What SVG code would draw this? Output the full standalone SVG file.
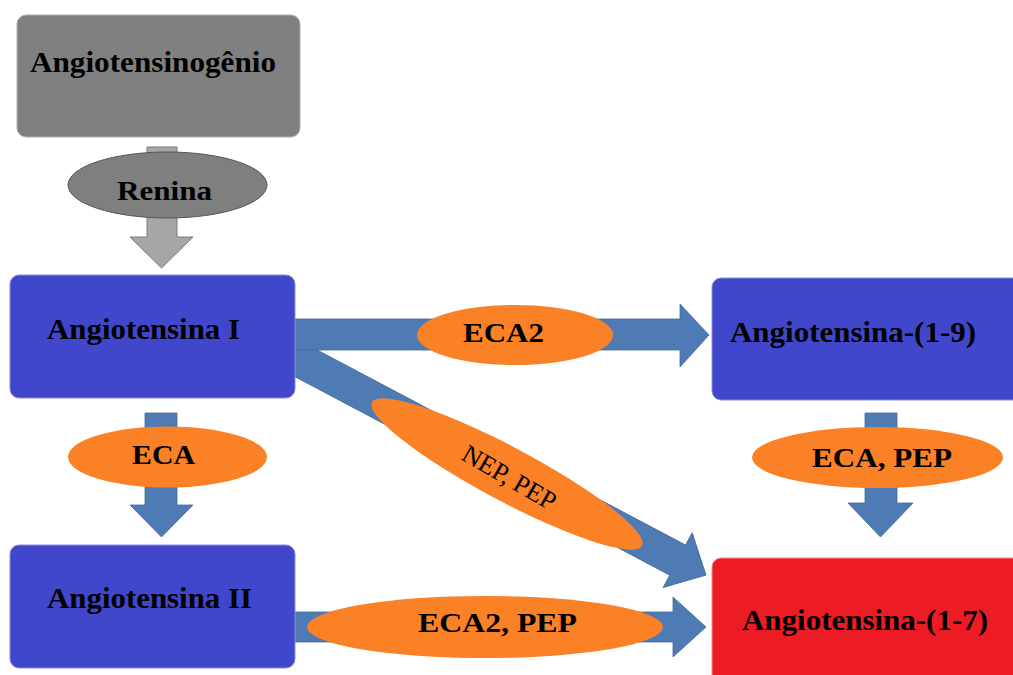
<svg xmlns="http://www.w3.org/2000/svg" width="1013" height="675" viewBox="0 0 1013 675">
  <style>
    .lbl { font-family: "Liberation Serif", "Times New Roman", serif; font-weight: bold; font-size: 29px; fill: #000; }
    .enz { font-family: "Liberation Serif", "Times New Roman", serif; font-weight: bold; font-size: 28px; fill: #000; }
    .blue { fill: #4047ca; stroke: #8a8fd8; stroke-width: 1; }
    .red { fill: #ed1c24; stroke: #f08a8a; stroke-width: 1; }
    .gray { fill: #808080; stroke: #b0b0b0; stroke-width: 1; }
    .arr { fill: #4e7bb4; stroke: #44699a; stroke-width: 0.8; }
    .garr { fill: #a6a6a6; stroke: #7a7a7a; stroke-width: 1; }
    .orange { fill: #fa8126; }
  </style>
  <rect width="1013" height="675" fill="#ffffff"/>

  <g id="connectors">
    <polygon class="garr" points="147,147 177,147 177,237 193,237 161.5,268 130,237 147,237"/>
    <polygon class="arr" points="145,413 177,413 177,505 193,505 161.5,537 130,505 145,505"/>
    <polygon class="arr" points="865,413 897,413 897,503 913,503 880.5,537 848,503 865,503"/>
    <polygon class="arr" transform="translate(295,357.5) rotate(27.9)" points="-30,-17 433,-17 433,-31 465,0 433,31 433,17 -30,17"/>
    <polygon class="arr" points="280,319 680,319 680,304 709,335 680,367 680,350 280,350"/>
    <polygon class="arr" points="280,612 673,612 673,597 706,627 673,657 673,642 280,642"/>
  </g>

  <g id="renina">
    <ellipse cx="167.5" cy="185" rx="99.5" ry="33" fill="#7f7f7f" stroke="#555555" stroke-width="1"/>
    <text class="enz" x="117" y="200" textLength="95" lengthAdjust="spacingAndGlyphs">Renina</text>
  </g>
  <g id="eca-left">
    <ellipse class="orange" cx="167.5" cy="457" rx="99.5" ry="30.5"/>
    <text class="enz" x="132" y="464" textLength="63" lengthAdjust="spacingAndGlyphs">ECA</text>
  </g>
  <g id="eca-pep-right">
    <ellipse class="orange" cx="877.5" cy="457.5" rx="125.5" ry="30.5"/>
    <text class="enz" x="812" y="467" textLength="140" lengthAdjust="spacingAndGlyphs">ECA, PEP</text>
  </g>
  <g id="eca2-top">
    <ellipse class="orange" cx="515" cy="335" rx="98" ry="30"/>
    <text class="enz" x="463" y="342" textLength="81" lengthAdjust="spacingAndGlyphs">ECA2</text>
  </g>
  <g id="eca2-pep-bottom">
    <ellipse class="orange" cx="485" cy="627" rx="178" ry="31"/>
    <text class="enz" x="418" y="632" textLength="159" lengthAdjust="spacingAndGlyphs">ECA2, PEP</text>
  </g>
  <g id="nep-pep">
    <ellipse class="orange" cx="507" cy="474" rx="153" ry="27" transform="rotate(28 507 474)"/>
    <text transform="translate(509,478) rotate(30)" x="0" y="8" text-anchor="middle" font-family="Liberation Serif, Times New Roman, serif" font-size="26" fill="#000">NEP, PEP</text>
  </g>

  <g id="angiotensinogenio">
    <rect class="gray" x="17" y="15" width="283" height="122" rx="9"/>
    <text class="lbl" x="30" y="72" textLength="246" lengthAdjust="spacingAndGlyphs">Angiotensinogênio</text>
  </g>
  <g id="angiotensina-i">
    <rect class="blue" x="10" y="275" width="285" height="123" rx="9"/>
    <text class="lbl" x="47" y="339" textLength="193" lengthAdjust="spacingAndGlyphs">Angiotensina I</text>
  </g>
  <g id="angiotensina-ii">
    <rect class="blue" x="10" y="545" width="285" height="123" rx="9"/>
    <text class="lbl" x="47" y="608" textLength="205" lengthAdjust="spacingAndGlyphs">Angiotensina II</text>
  </g>
  <g id="angiotensina-1-9">
    <rect class="blue" x="712" y="278" width="320" height="122" rx="9"/>
    <text class="lbl" x="730" y="342" textLength="246" lengthAdjust="spacingAndGlyphs">Angiotensina-(1-9)</text>
  </g>
  <g id="angiotensina-1-7">
    <rect class="red" x="712" y="558" width="320" height="140" rx="9"/>
    <text class="lbl" x="742" y="630" textLength="246" lengthAdjust="spacingAndGlyphs">Angiotensina-(1-7)</text>
  </g>
</svg>
